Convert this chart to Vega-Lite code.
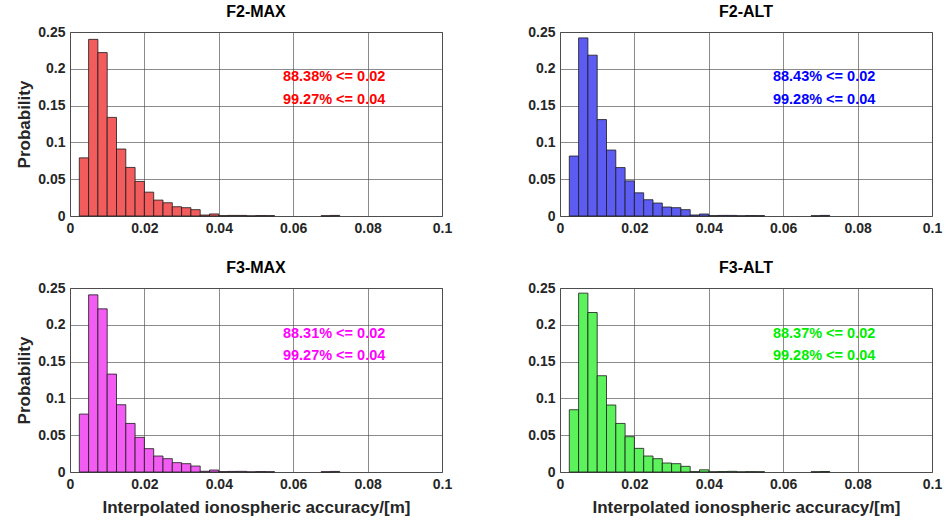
{
  "$schema": "https://vega.github.io/schema/vega-lite/v6.json",
  "padding": {"left": 15, "top": 3, "right": 5, "bottom": 5},
  "background": "white",
  "config": {
    "font": "Liberation Sans",
    "view": {"stroke": "#4d4d4d", "strokeWidth": 1},
    "axis": {
      "labelFont": "Liberation Sans", "labelFontSize": 14, "labelFontWeight": "bold", "labelColor": "#262626",
      "titleFont": "Liberation Sans", "titleFontSize": 17, "titleFontWeight": "bold", "titleColor": "#262626",
      "grid": true, "gridColor": "#4d4d4d", "gridOpacity": 0.65, "gridWidth": 1, "tickCount": 12,
      "ticks": false, "labelPadding": 5, "domain": false, "labelOverlap": false, "labelBound": false, "labelFlush": false
    },
    "title": {"font": "Liberation Sans", "fontSize": 16, "fontWeight": "bold", "color": "#000000", "offset": 5, "baseline": "alphabetic", "anchor": "middle"}
  },
  "datasets": {
    "bins": [
      {"panel": "F2-MAX", "x0": 0.0025, "x1": 0.005, "p": 0.079},
      {"panel": "F2-MAX", "x0": 0.005, "x1": 0.0075, "p": 0.240},
      {"panel": "F2-MAX", "x0": 0.0075, "x1": 0.01, "p": 0.222},
      {"panel": "F2-MAX", "x0": 0.01, "x1": 0.0125, "p": 0.134},
      {"panel": "F2-MAX", "x0": 0.0125, "x1": 0.015, "p": 0.091},
      {"panel": "F2-MAX", "x0": 0.015, "x1": 0.0175, "p": 0.066},
      {"panel": "F2-MAX", "x0": 0.0175, "x1": 0.02, "p": 0.047},
      {"panel": "F2-MAX", "x0": 0.02, "x1": 0.0225, "p": 0.0324},
      {"panel": "F2-MAX", "x0": 0.0225, "x1": 0.025, "p": 0.0216},
      {"panel": "F2-MAX", "x0": 0.025, "x1": 0.0275, "p": 0.018},
      {"panel": "F2-MAX", "x0": 0.0275, "x1": 0.03, "p": 0.0126},
      {"panel": "F2-MAX", "x0": 0.03, "x1": 0.0325, "p": 0.0113},
      {"panel": "F2-MAX", "x0": 0.0325, "x1": 0.035, "p": 0.0086},
      {"panel": "F2-MAX", "x0": 0.035, "x1": 0.0375, "p": 0.0013},
      {"panel": "F2-MAX", "x0": 0.0375, "x1": 0.04, "p": 0.0028},
      {"panel": "F2-MAX", "x0": 0.04, "x1": 0.0425, "p": 0.0005},
      {"panel": "F2-MAX", "x0": 0.0425, "x1": 0.045, "p": 0.0008},
      {"panel": "F2-MAX", "x0": 0.045, "x1": 0.0475, "p": 0.0008},
      {"panel": "F2-MAX", "x0": 0.0475, "x1": 0.05, "p": 0.0002},
      {"panel": "F2-MAX", "x0": 0.05, "x1": 0.0525, "p": 0.0006},
      {"panel": "F2-MAX", "x0": 0.0525, "x1": 0.055, "p": 0.0005},
      {"panel": "F2-MAX", "x0": 0.0675, "x1": 0.07, "p": 0.0004},
      {"panel": "F2-MAX", "x0": 0.07, "x1": 0.0725, "p": 0.0008},

      {"panel": "F2-ALT", "x0": 0.0025, "x1": 0.005, "p": 0.0815},
      {"panel": "F2-ALT", "x0": 0.005, "x1": 0.0075, "p": 0.242},
      {"panel": "F2-ALT", "x0": 0.0075, "x1": 0.01, "p": 0.2185},
      {"panel": "F2-ALT", "x0": 0.01, "x1": 0.0125, "p": 0.131},
      {"panel": "F2-ALT", "x0": 0.0125, "x1": 0.015, "p": 0.0896},
      {"panel": "F2-ALT", "x0": 0.015, "x1": 0.0175, "p": 0.0658},
      {"panel": "F2-ALT", "x0": 0.0175, "x1": 0.02, "p": 0.0477},
      {"panel": "F2-ALT", "x0": 0.02, "x1": 0.0225, "p": 0.0315},
      {"panel": "F2-ALT", "x0": 0.0225, "x1": 0.025, "p": 0.0221},
      {"panel": "F2-ALT", "x0": 0.025, "x1": 0.0275, "p": 0.0176},
      {"panel": "F2-ALT", "x0": 0.0275, "x1": 0.03, "p": 0.0122},
      {"panel": "F2-ALT", "x0": 0.03, "x1": 0.0325, "p": 0.0113},
      {"panel": "F2-ALT", "x0": 0.0325, "x1": 0.035, "p": 0.0086},
      {"panel": "F2-ALT", "x0": 0.035, "x1": 0.0375, "p": 0.0014},
      {"panel": "F2-ALT", "x0": 0.0375, "x1": 0.04, "p": 0.0027},
      {"panel": "F2-ALT", "x0": 0.04, "x1": 0.0425, "p": 0.0005},
      {"panel": "F2-ALT", "x0": 0.0425, "x1": 0.045, "p": 0.0008},
      {"panel": "F2-ALT", "x0": 0.045, "x1": 0.0475, "p": 0.0008},
      {"panel": "F2-ALT", "x0": 0.0475, "x1": 0.05, "p": 0.0003},
      {"panel": "F2-ALT", "x0": 0.05, "x1": 0.0525, "p": 0.0006},
      {"panel": "F2-ALT", "x0": 0.0525, "x1": 0.055, "p": 0.0005},
      {"panel": "F2-ALT", "x0": 0.0675, "x1": 0.07, "p": 0.0004},
      {"panel": "F2-ALT", "x0": 0.07, "x1": 0.0725, "p": 0.0008},

      {"panel": "F3-MAX", "x0": 0.0025, "x1": 0.005, "p": 0.0787},
      {"panel": "F3-MAX", "x0": 0.005, "x1": 0.0075, "p": 0.2407},
      {"panel": "F3-MAX", "x0": 0.0075, "x1": 0.01, "p": 0.2217},
      {"panel": "F3-MAX", "x0": 0.01, "x1": 0.0125, "p": 0.133},
      {"panel": "F3-MAX", "x0": 0.0125, "x1": 0.015, "p": 0.0914},
      {"panel": "F3-MAX", "x0": 0.015, "x1": 0.0175, "p": 0.066},
      {"panel": "F3-MAX", "x0": 0.0175, "x1": 0.02, "p": 0.0471},
      {"panel": "F3-MAX", "x0": 0.02, "x1": 0.0225, "p": 0.0317},
      {"panel": "F3-MAX", "x0": 0.0225, "x1": 0.025, "p": 0.0217},
      {"panel": "F3-MAX", "x0": 0.025, "x1": 0.0275, "p": 0.0181},
      {"panel": "F3-MAX", "x0": 0.0275, "x1": 0.03, "p": 0.0127},
      {"panel": "F3-MAX", "x0": 0.03, "x1": 0.0325, "p": 0.0113},
      {"panel": "F3-MAX", "x0": 0.0325, "x1": 0.035, "p": 0.0081},
      {"panel": "F3-MAX", "x0": 0.035, "x1": 0.0375, "p": 0.001},
      {"panel": "F3-MAX", "x0": 0.0375, "x1": 0.04, "p": 0.0027},
      {"panel": "F3-MAX", "x0": 0.04, "x1": 0.0425, "p": 0.0005},
      {"panel": "F3-MAX", "x0": 0.0425, "x1": 0.045, "p": 0.0008},
      {"panel": "F3-MAX", "x0": 0.045, "x1": 0.0475, "p": 0.0009},
      {"panel": "F3-MAX", "x0": 0.0475, "x1": 0.05, "p": 0.0002},
      {"panel": "F3-MAX", "x0": 0.05, "x1": 0.0525, "p": 0.0006},
      {"panel": "F3-MAX", "x0": 0.0525, "x1": 0.055, "p": 0.0004},
      {"panel": "F3-MAX", "x0": 0.0675, "x1": 0.07, "p": 0.0004},
      {"panel": "F3-MAX", "x0": 0.07, "x1": 0.0725, "p": 0.0008},

      {"panel": "F3-ALT", "x0": 0.0025, "x1": 0.005, "p": 0.0846},
      {"panel": "F3-ALT", "x0": 0.005, "x1": 0.0075, "p": 0.243},
      {"panel": "F3-ALT", "x0": 0.0075, "x1": 0.01, "p": 0.2167},
      {"panel": "F3-ALT", "x0": 0.01, "x1": 0.0125, "p": 0.1308},
      {"panel": "F3-ALT", "x0": 0.0125, "x1": 0.015, "p": 0.091},
      {"panel": "F3-ALT", "x0": 0.015, "x1": 0.0175, "p": 0.066},
      {"panel": "F3-ALT", "x0": 0.0175, "x1": 0.02, "p": 0.048},
      {"panel": "F3-ALT", "x0": 0.02, "x1": 0.0225, "p": 0.0321},
      {"panel": "F3-ALT", "x0": 0.0225, "x1": 0.025, "p": 0.0217},
      {"panel": "F3-ALT", "x0": 0.025, "x1": 0.0275, "p": 0.0181},
      {"panel": "F3-ALT", "x0": 0.0275, "x1": 0.03, "p": 0.0122},
      {"panel": "F3-ALT", "x0": 0.03, "x1": 0.0325, "p": 0.0113},
      {"panel": "F3-ALT", "x0": 0.0325, "x1": 0.035, "p": 0.0077},
      {"panel": "F3-ALT", "x0": 0.035, "x1": 0.0375, "p": 0.0005},
      {"panel": "F3-ALT", "x0": 0.0375, "x1": 0.04, "p": 0.003},
      {"panel": "F3-ALT", "x0": 0.04, "x1": 0.0425, "p": 0.0003},
      {"panel": "F3-ALT", "x0": 0.0425, "x1": 0.045, "p": 0.0006},
      {"panel": "F3-ALT", "x0": 0.045, "x1": 0.0475, "p": 0.0009},
      {"panel": "F3-ALT", "x0": 0.0475, "x1": 0.05, "p": 0.0002},
      {"panel": "F3-ALT", "x0": 0.05, "x1": 0.0525, "p": 0.0005},
      {"panel": "F3-ALT", "x0": 0.0525, "x1": 0.055, "p": 0.0004},
      {"panel": "F3-ALT", "x0": 0.0675, "x1": 0.07, "p": 0.0004},
      {"panel": "F3-ALT", "x0": 0.07, "x1": 0.0725, "p": 0.0007}
    ],
    "labels": [
      {"panel": "F2-MAX", "x": 0.071, "y": 0.189, "text": "88.38% <= 0.02"},
      {"panel": "F2-MAX", "x": 0.071, "y": 0.158, "text": "99.27% <= 0.04"},
      {"panel": "F2-ALT", "x": 0.071, "y": 0.189, "text": "88.43% <= 0.02"},
      {"panel": "F2-ALT", "x": 0.071, "y": 0.158, "text": "99.28% <= 0.04"},
      {"panel": "F3-MAX", "x": 0.071, "y": 0.187, "text": "88.31% <= 0.02"},
      {"panel": "F3-MAX", "x": 0.071, "y": 0.158, "text": "99.27% <= 0.04"},
      {"panel": "F3-ALT", "x": 0.071, "y": 0.187, "text": "88.37% <= 0.02"},
      {"panel": "F3-ALT", "x": 0.071, "y": 0.158, "text": "99.28% <= 0.04"}
    ]
  },
  "vconcat": [
    {
      "hconcat": [
        {
          "width": 372, "height": 184,
          "title": "F2-MAX",
          "layer": [
            {
              "data": {"name": "bins"},
              "transform": [{"filter": "datum.panel === 'F2-MAX'"}],
              "mark": {"type": "rect", "fill": "#f25c5c", "stroke": "#1a1a1a", "strokeWidth": 0.8},
              "encoding": {
                "x": {"field": "x0", "type": "quantitative", "scale": {"domain": [0, 0.1], "nice": false}, "axis": {"values": [0, 0.02, 0.04, 0.06, 0.08, 0.1], "format": "~g", "title": null}},
                "x2": {"field": "x1"},
                "y": {"field": "p", "type": "quantitative", "scale": {"domain": [0, 0.25], "nice": false}, "axis": {"values": [0, 0.05, 0.1, 0.15, 0.2, 0.25], "format": "~g", "title": "Probability", "titlePadding": 4}}
              }
            },
            {
              "data": {"name": "labels"},
              "transform": [{"filter": "datum.panel === 'F2-MAX'"}],
              "mark": {"type": "text", "font": "Liberation Sans", "fontSize": 14.5, "fontWeight": "bold", "color": "#ff0000", "align": "center", "baseline": "middle"},
              "encoding": {
                "x": {"field": "x", "type": "quantitative"},
                "y": {"field": "y", "type": "quantitative"},
                "text": {"field": "text"}
              }
            }
          ]
        },
        {
          "width": 372, "height": 184,
          "title": "F2-ALT",
          "layer": [
            {
              "data": {"name": "bins"},
              "transform": [{"filter": "datum.panel === 'F2-ALT'"}],
              "mark": {"type": "rect", "fill": "#5c5cf2", "stroke": "#1a1a1a", "strokeWidth": 0.8},
              "encoding": {
                "x": {"field": "x0", "type": "quantitative", "scale": {"domain": [0, 0.1], "nice": false}, "axis": {"values": [0, 0.02, 0.04, 0.06, 0.08, 0.1], "format": "~g", "title": null}},
                "x2": {"field": "x1"},
                "y": {"field": "p", "type": "quantitative", "scale": {"domain": [0, 0.25], "nice": false}, "axis": {"values": [0, 0.05, 0.1, 0.15, 0.2, 0.25], "format": "~g", "title": null}}
              }
            },
            {
              "data": {"name": "labels"},
              "transform": [{"filter": "datum.panel === 'F2-ALT'"}],
              "mark": {"type": "text", "font": "Liberation Sans", "fontSize": 14.5, "fontWeight": "bold", "color": "#0000ff", "align": "center", "baseline": "middle"},
              "encoding": {
                "x": {"field": "x", "type": "quantitative"},
                "y": {"field": "y", "type": "quantitative"},
                "text": {"field": "text"}
              }
            }
          ]
        }
      ],
      "spacing": 118,
      "bounds": "flush"
    },
    {
      "hconcat": [
        {
          "width": 372, "height": 184,
          "title": "F3-MAX",
          "layer": [
            {
              "data": {"name": "bins"},
              "transform": [{"filter": "datum.panel === 'F3-MAX'"}],
              "mark": {"type": "rect", "fill": "#f25cf2", "stroke": "#1a1a1a", "strokeWidth": 0.8},
              "encoding": {
                "x": {"field": "x0", "type": "quantitative", "scale": {"domain": [0, 0.1], "nice": false}, "axis": {"values": [0, 0.02, 0.04, 0.06, 0.08, 0.1], "format": "~g", "title": "Interpolated ionospheric accuracy/[m]", "titlePadding": 8}},
                "x2": {"field": "x1"},
                "y": {"field": "p", "type": "quantitative", "scale": {"domain": [0, 0.25], "nice": false}, "axis": {"values": [0, 0.05, 0.1, 0.15, 0.2, 0.25], "format": "~g", "title": "Probability", "titlePadding": 4}}
              }
            },
            {
              "data": {"name": "labels"},
              "transform": [{"filter": "datum.panel === 'F3-MAX'"}],
              "mark": {"type": "text", "font": "Liberation Sans", "fontSize": 14.5, "fontWeight": "bold", "color": "#ff00ff", "align": "center", "baseline": "middle"},
              "encoding": {
                "x": {"field": "x", "type": "quantitative"},
                "y": {"field": "y", "type": "quantitative"},
                "text": {"field": "text"}
              }
            }
          ]
        },
        {
          "width": 372, "height": 184,
          "title": "F3-ALT",
          "layer": [
            {
              "data": {"name": "bins"},
              "transform": [{"filter": "datum.panel === 'F3-ALT'"}],
              "mark": {"type": "rect", "fill": "#5cf25c", "stroke": "#1a1a1a", "strokeWidth": 0.8},
              "encoding": {
                "x": {"field": "x0", "type": "quantitative", "scale": {"domain": [0, 0.1], "nice": false}, "axis": {"values": [0, 0.02, 0.04, 0.06, 0.08, 0.1], "format": "~g", "title": "Interpolated ionospheric accuracy/[m]", "titlePadding": 8}},
                "x2": {"field": "x1"},
                "y": {"field": "p", "type": "quantitative", "scale": {"domain": [0, 0.25], "nice": false}, "axis": {"values": [0, 0.05, 0.1, 0.15, 0.2, 0.25], "format": "~g", "title": null}}
              }
            },
            {
              "data": {"name": "labels"},
              "transform": [{"filter": "datum.panel === 'F3-ALT'"}],
              "mark": {"type": "text", "font": "Liberation Sans", "fontSize": 14.5, "fontWeight": "bold", "color": "#00ee00", "align": "center", "baseline": "middle"},
              "encoding": {
                "x": {"field": "x", "type": "quantitative"},
                "y": {"field": "y", "type": "quantitative"},
                "text": {"field": "text"}
              }
            }
          ]
        }
      ],
      "spacing": 118,
      "bounds": "flush"
    }
  ],
  "spacing": 23
}
